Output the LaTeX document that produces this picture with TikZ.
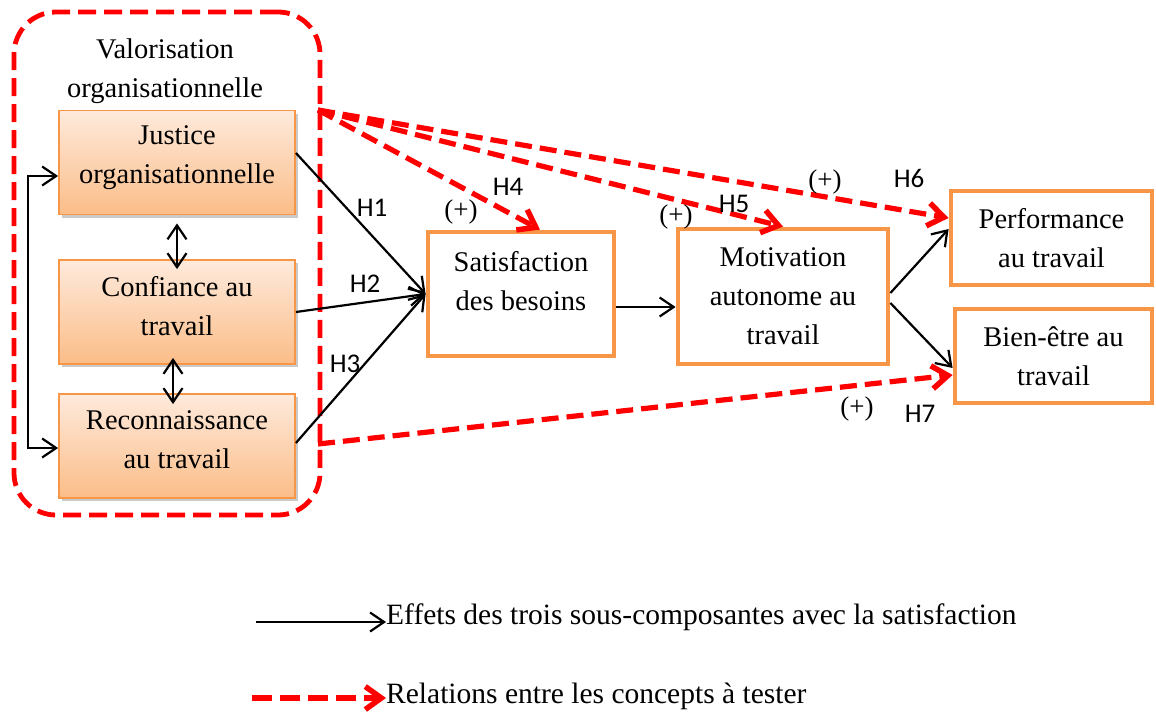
\documentclass[tikz,border=0pt]{standalone}
\usepackage{fontspec}
\setmainfont{Liberation Serif}
\newfontfamily\hfont{Carlito}
\usetikzlibrary{arrows.meta,shadows}
\definecolor{orng}{HTML}{F79646}
\definecolor{peachT}{HTML}{FEEADC}
\definecolor{peachB}{HTML}{FBBD88}
\definecolor{rd}{HTML}{FF0000}
\begin{document}
\begin{tikzpicture}[x=1pt,y=-1pt,
  txt/.style={font=\fontsize{28.5}{39}\selectfont, align=center, inner sep=0pt},
  legtxt/.style={font=\fontsize{29.5}{39}\selectfont, inner sep=0pt},
  hlab/.style={font=\hfont\fontsize{27}{30}\selectfont, inner sep=0pt},
  plab/.style={font=\fontsize{27}{30}\selectfont, inner sep=0pt},
  lbox/.style={draw=orng, line width=1.8pt, top color=peachT, bottom color=peachB,
    minimum width=236pt, minimum height=104pt, inner sep=0pt,
    drop shadow={shadow xshift=3pt, shadow yshift=-3pt, opacity=.35, fill=black!60}},
  rbox/.style={draw=orng, line width=4.8pt, fill=white, inner sep=0pt, txt},
  container/.style={draw=rd, line width=4.8pt, dash pattern=on 18pt off 8pt, rounded corners=42pt,
    minimum width=306pt, minimum height=503pt, inner sep=0pt},
  btip/.tip={Straight Barb[length=14pt,width=19pt,line width=2.2pt]},
  blk/.style={-btip, line width=2.2pt},
  blkboth/.style={btip-btip, line width=2.2pt},
  rdash/.style={draw=rd, line width=5.2pt, dash pattern=on 17pt off 8pt,
    -{Straight Barb[length=16pt,width=23pt,line width=5.5pt]}},
]
\useasboundingbox (0,0) rectangle (1156,712);

% container
\node[container] (valo) at (167,263.5) {};
\node[txt] (valotxt) at (165,71) {Valorisation\\organisationnelle};

% left boxes
\node[lbox] (jus) at (177,162.5) {};
\node[txt] (justxt) at (177,158) {Justice\\organisationnelle};
\node[lbox] (conf) at (177,312) {};
\node[txt] (conftxt) at (177,306) {Confiance au\\travail};
\node[lbox] (rec) at (177,446) {};
\node[txt] (rectxt) at (177,440) {Reconnaissance\\au travail};

% right boxes
\node[rbox, minimum width=186pt, minimum height=124pt] (sat) at (521,294) {};
\node[txt] (sattxt) at (521,281) {Satisfaction\\des besoins};
\node[rbox, minimum width=210pt, minimum height=135pt] (mot) at (783,296.5) {Motivation\\autonome au\\travail};
\node[rbox, minimum width=201pt, minimum height=94pt] (perf) at (1051.5,238) {Performance\\au travail};
\node[rbox, minimum width=197pt, minimum height=94pt] (bien) at (1053.5,356) {Bien-être au\\travail};

% double arrows between left boxes
\draw[blkboth] ([yshift=-8pt]jus.south) -- ([yshift=-10pt]conf.north);
\draw[blkboth] ([xshift=-4pt,yshift=7pt]conf.south) -- ([xshift=-4pt,yshift=-11pt]rec.north);

% bracket on the left
\coordinate (b1) at (28,176);
\coordinate (b2) at (28,448);
\draw[blkboth] (jus.west |- b1) -- (b1) -- (b2) -- (rec.west |- b2);

% black arrows
\draw[blk] ([yshift=9.5pt]jus.east) -- (sat.west);
\draw[blk] (conf.east) -- (sat.west);
\draw[blk] ([yshift=3pt]rec.east) -- (sat.west);
\coordinate (sm) at (600,307);
\draw[blk] (sat.east |- sm) -- (mot.west |- sm);
\draw[blk] ([yshift=3.5pt]mot.east) -- ([yshift=9pt]perf.west);
\draw[blk] ([yshift=-6.5pt]mot.east) -- ([yshift=-12pt]bien.west);

% red dashed arrows
\coordinate (vsrc) at (318,110);
\coordinate (vsrc2) at (318,444);
\draw[rdash] (vsrc) -- ([xshift=19pt]sat.north);
\draw[rdash] (vsrc) -- (mot.north);
\draw[rdash] (vsrc) -- ([yshift=20pt]perf.west);
\draw[rdash] (vsrc2) -- ([yshift=-19pt]bien.west);

% labels
\node[hlab] (h1) at (372,208) {H1};
\node[hlab] (h2) at (365,284) {H2};
\node[hlab] (h3) at (345,364) {H3};
\node[hlab] (h4) at (508,187) {H4};
\node[plab] (p4) at (461,212) {(+)};
\node[hlab] (h5) at (734,204) {H5};
\node[plab] (p5) at (676,217) {(+)};
\node[plab] (p6) at (825,182) {(+)};
\node[hlab] (h6) at (909,178) {H6};
\node[plab] (p7) at (857,409) {(+)};
\node[hlab] (h7) at (920,414) {H7};

% legend
\node[legtxt, anchor=west] (leg1) at (386,617) {Effets des trois sous-composantes avec la satisfaction};
\node[legtxt, anchor=west] (leg2) at (386,696) {Relations entre les concepts à tester};
\coordinate (l1s) at (256,622);
\coordinate (l2s) at (252,698);
\draw[blk] (l1s) -- (leg1.west |- l1s);
\draw[rdash, dash pattern=on 20pt off 8pt, line width=5.5pt] (l2s) -- (leg2.west |- l2s);
\end{tikzpicture}
\end{document}
